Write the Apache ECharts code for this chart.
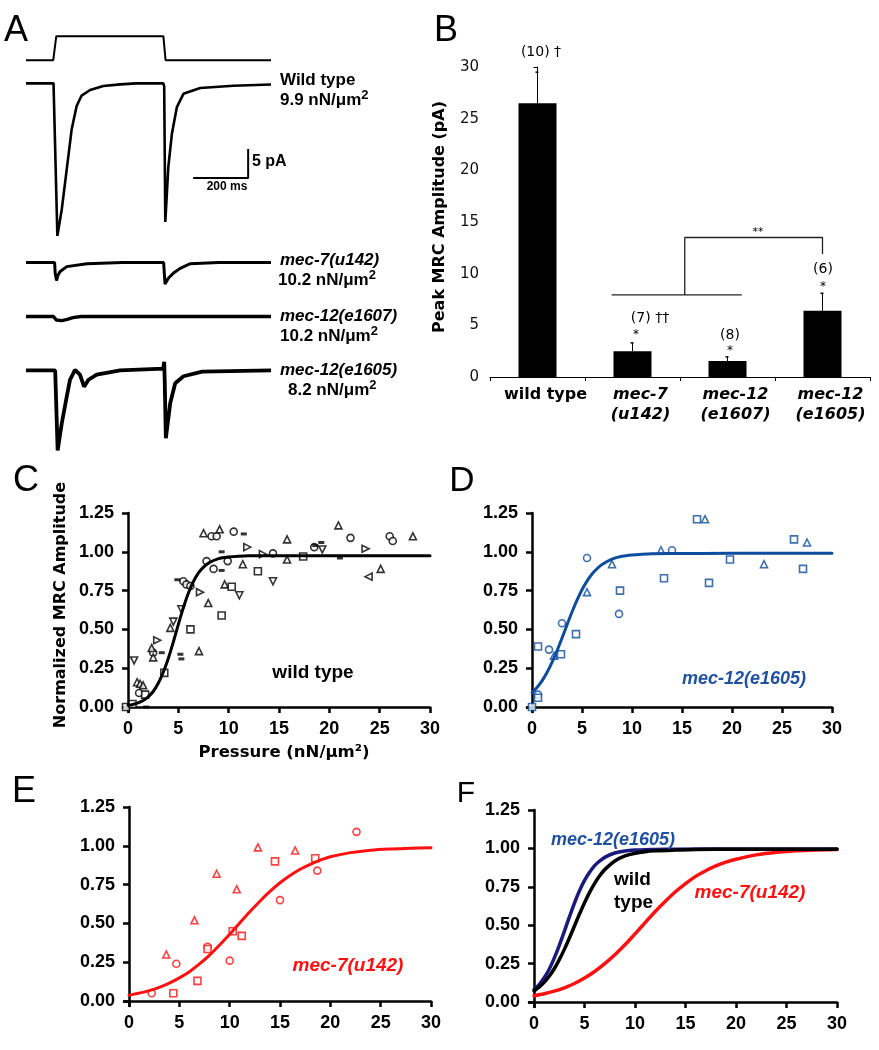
<!DOCTYPE html>
<html><head><meta charset="utf-8">
<script src="https://cdn.jsdelivr.net/npm/echarts@6/dist/echarts.min.js"></script>
<style>html,body{margin:0;padding:0;background:#fff}#c{width:879px;height:1050px}</style>
</head><body><div id="c"></div>
<script>
// ---------- Panel A: current traces (time ms, current pA relative to baseline) ----------
const stimTrace = [[0,0],[99,0],[110,1],[499,1],[507,0],[890,0]];
const wtTrace = [[0,0],[100,0],[103,-0.3],[114,-26.3],[130,-21.7],[142,-17.1],[154,-12.5],[166,-7.9],[184,-3.9],[202,-2.1],[233,-1.15],[281,-0.45],[342,-0.17],[400,0],[499,0],[502,-0.5],[506,-23.9],[517,-14.4],[530,-8.7],[548,-4.1],[572,-1.8],[633,-0.8],[753,-0.4],[890,-0.2]];
const mec7Trace = [[0,0],[104,0],[106,-1.8],[111,-3.1],[116,-2.2],[124,-1.55],[148,-0.7],[221,-0.2],[350,0],[500,0],[502,-1.5],[505,-3.7],[517,-2.7],[536,-1.8],[560,-1.0],[596,-0.2],[700,0],[890,0]];
const e1607Trace = [[0,0],[100,0],[110,-0.6],[130,-0.7],[150,-0.5],[170,-0.2],[200,0],[890,0]];
const e1605Trace = [[0,0],[106,0],[115,-13.8],[130,-9.1],[148,-4.5],[160,-1.6],[178,0.1],[196,-0.7],[211,-2.8],[227,-1.6],[257,-0.7],[342,0],[498,0.3],[502,1.5],[504,-2],[508,-11.7],[524,-5.6],[542,-2.2],[572,-1.0],[640,-0.2],[890,0]];
const scaleBar = {ms: 200, pA: 5};

// ---------- Panel B: peak MRC amplitude ----------
const barCats = ['wild type', 'mec-7\n(u142)', 'mec-12\n(e1607)', 'mec-12\n(e1605)'];
const barVals = [26.5, 2.5, 1.55, 6.4];
const barErr = [3.0, 0.8, 0.4, 1.7];
const bracketLow = [[0.78, 7.94], [2.15, 7.94]];
const bracketHigh = [[1.55, 7.94], [1.55, 13.5], [3.0, 13.5], [3.0, 11.9]];

// ---------- Panel C: wild type scatter + fit ----------
const cCircle = [[1.1,0.09],[2.5,0.35],[5.5,0.81],[5.8,0.79],[6.2,0.78],[7.8,0.94],[8.5,0.89],[8.3,1.10],[8.8,1.10],[9.9,0.94],[10.5,1.13],[14.4,0.99],[18.5,1.03],[22.1,1.09],[26.0,1.10],[26.3,1.07]];
const cTriUp = [[0.9,0.16],[1.2,0.15],[1.5,0.14],[2.35,0.38],[2.5,0.32],[4.2,0.51],[7.05,0.36],[7.97,0.67],[7.5,1.12],[9.1,1.145],[9.6,0.79],[11.4,0.92],[15.8,1.08],[15.8,0.95],[20.9,1.17],[25.1,0.89],[28.3,1.10]];
const cSquare = [[-0.2,0.0],[0.45,0.02],[1.7,0.08],[3.6,0.22],[6.2,0.50],[9.3,0.59],[10.3,0.775],[12.9,0.875],[17.4,0.97]];
const cTriDown = [[0.6,0.30],[4.5,0.55],[5.3,0.63],[11.06,0.72],[14.4,0.81],[19.3,1.015]];
const cTriRight = [[2.9,0.43],[7.15,0.74],[11.85,1.03],[13.4,0.985],[23.6,1.02]];
const cTriLeft = [[23.9,0.84]];
const cDash = [[1.8,0.0],[3.35,0.35],[5.2,0.34],[5.3,0.31],[4.9,0.82],[9.3,1.00],[9.3,0.88],[11.5,1.115],[19.2,1.06],[21.05,0.96],[18.6,1.04]];
const cFitX = [0,0.5,1,1.5,2,2.5,3,3.5,4,4.5,5,5.5,6,6.5,7,7.5,8,9,10,11,12,14,16,20,25,30];
const cFitY = [0.011,0.017,0.027,0.042,0.066,0.100,0.153,0.224,0.313,0.419,0.533,0.641,0.735,0.809,0.864,0.901,0.928,0.956,0.967,0.972,0.974,0.975,0.975,0.975,0.975,0.975];

// ---------- Panel D: mec-12(e1605) ----------
const dCircle = [[0.6,0.08],[1.7,0.37],[3.0,0.54],[5.5,0.96],[8.7,0.60],[14.0,1.01]];
const dTriUp = [[2.2,0.33],[5.5,0.74],[8.0,0.92],[12.9,1.01],[17.3,1.21],[23.2,0.92],[27.5,1.06]];
const dSquare = [[0,0.0],[0.6,0.06],[0.6,0.39],[2.9,0.34],[4.4,0.47],[8.8,0.75],[13.2,0.83],[16.5,1.21],[17.7,0.80],[19.8,0.95],[26.2,1.08],[27.1,0.89]];
const dFitX = [0,0.5,1,1.5,2,2.5,3,3.5,4,4.5,5,5.5,6,6.5,7,8,9,10,11,12,14,20,30];
const dFitY = [0.092,0.126,0.168,0.222,0.287,0.362,0.444,0.529,0.612,0.688,0.756,0.811,0.857,0.891,0.918,0.953,0.971,0.980,0.985,0.988,0.989,0.99,0.99];

// ---------- Panel E: mec-7(u142) ----------
const eCircle = [[2.25,0.05],[4.7,0.24],[7.8,0.35],[10.0,0.26],[15.0,0.65],[18.7,0.84],[22.6,1.09]];
const eTriUp = [[3.7,0.30],[6.5,0.52],[8.7,0.82],[10.7,0.72],[12.8,0.99],[16.5,0.97]];
const eSquare = [[4.4,0.05],[6.8,0.13],[7.8,0.335],[10.3,0.45],[11.2,0.42],[14.5,0.90],[18.5,0.92]];
const eFitX = [0,1,2,3,4,5,6,7,8,9,10,11,12,13,14,15,16,17,18,19,20,22,24,26,28,30];
const eFitY = [0.038,0.051,0.067,0.088,0.115,0.149,0.189,0.239,0.296,0.361,0.430,0.503,0.575,0.643,0.706,0.762,0.809,0.849,0.881,0.908,0.930,0.956,0.972,0.980,0.985,0.988];

// ---------- Panel F: fitted curves overlay ----------
const fWtX = [0,0.5,1,1.5,2,2.5,3,3.5,4,4.5,5,5.5,6,6.5,7,8,9,10,11,12,14,16,20,30];
const fWtY = [0.072,0.097,0.128,0.168,0.217,0.276,0.343,0.417,0.495,0.573,0.647,0.714,0.773,0.822,0.862,0.918,0.951,0.969,0.979,0.984,0.989,0.993,0.995,0.995];
const fBlueX = [0,0.5,1,1.5,2,2.5,3,3.5,4,4.5,5,5.5,6,6.5,7,8,9,10,11,12,14,20,30];
const fBlueY = [0.081,0.114,0.158,0.214,0.286,0.369,0.46,0.554,0.644,0.725,0.792,0.845,0.888,0.918,0.942,0.97,0.983,0.989,0.992,0.993,0.995,0.996,0.996];
const fRedX = [0,1,2,3,4,5,6,7,8,9,10,11,12,13,14,15,16,17,18,19,20,22,24,26,28,30];
const fRedY = [0.041,0.054,0.071,0.093,0.121,0.156,0.199,0.250,0.308,0.373,0.444,0.517,0.589,0.656,0.718,0.771,0.818,0.855,0.886,0.911,0.930,0.958,0.975,0.985,0.99,0.993];

const xTicksN = [0,5,10,15,20,25,30];
const yTicksN = [0,0.25,0.5,0.75,1.0,1.25];

// ================= build =================
const chart = echarts.init(document.getElementById('c'), null, {renderer: 'canvas'});
const ARIAL = 'Liberation Sans', VERD = 'DejaVu Sans';
const BLUE_D = '#0d4c9e', BLUE_F = '#1a1a7e', BLUE_TXT = '#1f51a3', RED = '#ff1010';

const zip = (xs, ys) => xs.map((x, i) => [x, ys[i]]);

const aOffsets = {stim: -5.2, wt: -9.2, mec7: -40.1, e1607: -49.4, e1605: -58.7};
const stimScale = 4.14;
const shift = (tr, off, k = 1) => tr.map(([t, v]) => [t, v * k + off]);

const grids = [
  {left: 26, top: 30, width: 245, height: 435},
  {left: 490, top: 67, width: 380, height: 310},
  {left: 123, top: 513, width: 307, height: 199},
  {left: 527, top: 513, width: 305, height: 199},
  {left: 124, top: 807, width: 307, height: 199},
  {left: 529, top: 810, width: 308, height: 197}
];

const numX = (g) => ({
  type: 'value', gridIndex: g, min: -0.5, max: 30,
  axisLine: {show: true, lineStyle: {color: '#000', width: 2.5}},
  axisTick: {show: true, length: 6, lineStyle: {color: '#000', width: 2.5}, customValues: xTicksN},
  axisLabel: {customValues: xTicksN, color: '#000', fontFamily: ARIAL, fontWeight: 'bold', fontSize: 18, margin: 8},
  splitLine: {show: false}
});
const numY = (g) => ({
  type: 'value', gridIndex: g, min: -0.032, max: 1.25,
  axisLine: {show: true, lineStyle: {color: '#000', width: 2.5}},
  axisTick: {show: true, length: 6, lineStyle: {color: '#000', width: 2.5}, customValues: yTicksN},
  axisLabel: {customValues: yTicksN, color: '#000', fontFamily: ARIAL, fontWeight: 'bold', fontSize: 18, margin: 9,
    formatter: v => v.toFixed(2)},
  splitLine: {show: false}
});

const xAxes = [
  {type: 'value', gridIndex: 0, min: 0, max: 890, show: false},
  {type: 'category', gridIndex: 1, data: barCats,
    axisLine: {lineStyle: {color: '#000', width: 1}},
    axisTick: {show: true, length: 4, lineStyle: {color: '#000'}},
    axisLabel: {color: '#000', margin: 8, interval: 0, padding: [0, 0, 0, 16],
      formatter: (v, i) => i === 0 ? '{n|' + v + '}' : v.split('\n').map(s => '{i|' + s + '}').join('\n'),
      rich: {n: {fontFamily: VERD, fontWeight: 'bold', fontSize: 16, lineHeight: 20},
             i: {fontFamily: VERD, fontWeight: 'bold', fontStyle: 'italic', fontSize: 16, lineHeight: 20}}}},
  {type: 'value', gridIndex: 1, min: -0.5, max: 3.5, show: false},
  numX(2), numX(3), numX(4), numX(5)
];
const yAxes = [
  {type: 'value', gridIndex: 0, min: -75, max: 0, show: false},
  {type: 'value', gridIndex: 1, min: 0, max: 30, interval: 5,
    axisLine: {show: true, lineStyle: {color: '#000', width: 1}},
    axisTick: {show: true, length: 4, lineStyle: {color: '#000'}},
    axisLabel: {color: '#111', fontFamily: VERD, fontSize: 15, margin: 11},
    splitLine: {show: false}},
  numY(2), numY(3), numY(4), numY(5)
];

const series = [];
const traceLine = (data, w) => ({type: 'line', xAxisIndex: 0, yAxisIndex: 0, data, showSymbol: false, symbol: 'none',
  lineStyle: {color: '#000', width: w}, silent: true, z: 3});
series.push(traceLine(shift(stimTrace, aOffsets.stim, stimScale), 2));
series.push(traceLine(shift(wtTrace, aOffsets.wt), 2.6));
series.push(traceLine(shift(mec7Trace, aOffsets.mec7), 3));
series.push(traceLine(shift(e1607Trace, aOffsets.e1607), 3.4));
series.push(traceLine(shift(e1605Trace, aOffsets.e1605), 3.8));
const sbT = 807, sbY = -25.5;
series.push(traceLine([[sbT - scaleBar.ms, sbY], [sbT, sbY], [sbT, sbY + scaleBar.pA]], 2));

series.push({type: 'bar', xAxisIndex: 1, yAxisIndex: 1, data: barVals, barWidth: 38,
  itemStyle: {color: '#000'}, z: 2});
series.push({type: 'custom', xAxisIndex: 1, yAxisIndex: 1,
  data: barVals.map((v, i) => [i, v, v + barErr[i]]), encode: {x: 0, y: [1, 2]}, z: 3,
  renderItem(params, api) {
    const p0 = api.coord([api.value(0), api.value(1)]);
    const p1 = api.coord([api.value(0), api.value(2)]);
    return {type: 'group', children: [
      {type: 'line', shape: {x1: p0[0], y1: p0[1], x2: p1[0], y2: p1[1]}, style: {stroke: '#000', lineWidth: 1}},
      {type: 'line', shape: {x1: p1[0] - 2, y1: p1[1], x2: p1[0] + 1, y2: p1[1]}, style: {stroke: '#000', lineWidth: 1.5}}
    ]};
  }});
const bracketStyle = {color: '#222', width: 1.3};
series.push({type: 'line', xAxisIndex: 2, yAxisIndex: 1, data: bracketLow, showSymbol: false, symbol: 'none', lineStyle: bracketStyle});
series.push({type: 'line', xAxisIndex: 2, yAxisIndex: 1, data: bracketHigh, showSymbol: false, symbol: 'none', lineStyle: bracketStyle});

const hollow = (g, data, symbol, color, rot) => ({type: 'scatter', xAxisIndex: g + 1, yAxisIndex: g, data,
  symbol, symbolSize: 7, symbolRotate: rot || 0,
  itemStyle: {color: '#fff', borderColor: color, borderWidth: 1.6}, z: 3});
const curve = (g, data, color, w) => ({type: 'line', xAxisIndex: g + 1, yAxisIndex: g, data, smooth: 0.3,
  showSymbol: false, symbol: 'none', lineStyle: {color, width: w, cap: 'round', join: 'round'}, z: 4});

series.push(curve(2, zip(cFitX, cFitY), '#000', 3));
series.push(hollow(2, cCircle, 'circle', '#000'));
series.push(hollow(2, cTriUp, 'triangle', '#000'));
series.push(hollow(2, cSquare, 'rect', '#000'));
series.push(hollow(2, cTriDown, 'triangle', '#000', 180));
series.push(hollow(2, cTriRight, 'triangle', '#000', -90));
series.push(hollow(2, cTriLeft, 'triangle', '#000', 90));
series.push({type: 'scatter', xAxisIndex: 3, yAxisIndex: 2, data: cDash, symbol: 'rect', symbolSize: [6, 3],
  itemStyle: {color: '#000'}, z: 3});

series.push(curve(3, zip(dFitX, dFitY), BLUE_D, 3));
series.push(hollow(3, dCircle, 'circle', BLUE_D));
series.push(hollow(3, dTriUp, 'triangle', BLUE_D));
series.push(hollow(3, dSquare, 'rect', BLUE_D));

series.push(curve(4, zip(eFitX, eFitY), RED, 3));
series.push(hollow(4, eCircle, 'circle', RED));
series.push(hollow(4, eTriUp, 'triangle', RED));
series.push(hollow(4, eSquare, 'rect', RED));

series.push(curve(5, zip(fRedX, fRedY), RED, 3.5));
series.push(curve(5, zip(fBlueX, fBlueY), BLUE_F, 3.5));
series.push(curve(5, zip(fWtX, fWtY), '#000', 3.5));

const T = (x, y, text, o = {}) => ({type: 'text', x, y, rotation: o.rot || 0, silent: true, z: 10,
  style: Object.assign({text, fill: o.fill || '#000', fontFamily: o.ff || ARIAL, fontSize: o.fs || 16,
    fontWeight: o.fw || 'normal', fontStyle: o.it ? 'italic' : 'normal',
    align: o.al || 'left', verticalAlign: 'middle'}, o.rich ? {rich: o.rich} : {})});
const pres = (val) => '{a|' + val + ' nN/μm}{s|2}';
const presRich = {a: {fontFamily: ARIAL, fontWeight: 'bold', fontSize: 17, verticalAlign: 'bottom'},
                  s: {fontFamily: ARIAL, fontWeight: 'bold', fontSize: 13, verticalAlign: 'bottom', padding: [0, 0, 7, 0]}};

const graphics = [
  T(16, 31, 'A', {fs: 36, al: 'center'}),
  T(446, 31, 'B', {fs: 36, al: 'center'}),
  T(26, 481, 'C', {fs: 36, al: 'center'}),
  T(462, 481, 'D', {fs: 35, al: 'center'}),
  T(24, 792, 'E', {fs: 36, al: 'center'}),
  T(466, 794, 'F', {fs: 30, al: 'center'}),
  T(280, 80, 'Wild type', {fs: 17, fw: 'bold'}),
  T(280, 99, pres('9.9'), {rich: presRich}),
  T(280, 260, 'mec-7(u142)', {fs: 17, fw: 'bold', it: true}),
  T(278, 279, pres('10.2'), {rich: presRich}),
  T(280, 316, 'mec-12(e1607)', {fs: 17, fw: 'bold', it: true}),
  T(280, 335, pres('10.2'), {rich: presRich}),
  T(280, 370, 'mec-12(e1605)', {fs: 17, fw: 'bold', it: true}),
  T(288, 389, pres('8.2'), {rich: presRich}),
  T(252, 162, '5 pA', {fs: 16, fw: 'bold'}),
  T(227, 187, '200 ms', {fs: 12, fw: 'bold', al: 'center'}),
  T(440, 217, 'Peak MRC Amplitude (pA)', {ff: VERD, fs: 16, fw: 'bold', al: 'center', rot: Math.PI / 2}),
  T(541, 52, '(10) †', {ff: VERD, fs: 14, al: 'center'}),
  T(650, 318, '(7) ††', {ff: VERD, fs: 14, al: 'center'}),
  T(636, 335, '*', {ff: VERD, fs: 12, al: 'center'}),
  T(730, 335, '(8)', {ff: VERD, fs: 14, al: 'center'}),
  T(730, 351, '*', {ff: VERD, fs: 12, al: 'center'}),
  T(823, 269, '(6)', {ff: VERD, fs: 14, al: 'center'}),
  T(823, 287, '*', {ff: VERD, fs: 12, al: 'center'}),
  T(758, 232, '**', {ff: VERD, fs: 11, al: 'center'}),
  T(61, 605, 'Normalized MRC Amplitude', {ff: VERD, fs: 16, fw: 'bold', al: 'center', rot: Math.PI / 2}),
  T(284, 753, 'Pressure (nN/μm²)', {ff: VERD, fs: 16.5, fw: 'bold', al: 'center'}),
  T(313, 673, 'wild type', {fs: 19, fw: 'bold', al: 'center'}),
  T(744, 679, 'mec-12(e1605)', {fs: 18, fw: 'bold', it: true, al: 'center', fill: BLUE_TXT}),
  T(348, 966, 'mec-7(u142)', {fs: 19, fw: 'bold', it: true, al: 'center', fill: RED}),
  T(613, 840, 'mec-12(e1605)', {fs: 18, fw: 'bold', it: true, al: 'center', fill: BLUE_TXT}),
  T(614, 880, 'wild', {fs: 19, fw: 'bold'}),
  T(614, 903, 'type', {fs: 19, fw: 'bold'}),
  T(750, 893, 'mec-7(u142)', {fs: 19, fw: 'bold', it: true, al: 'center', fill: RED})
];

chart.setOption({
  animation: false,
  backgroundColor: '#fff',
  grid: grids,
  xAxis: xAxes,
  yAxis: yAxes,
  series,
  graphic: graphics
});
</script></body></html>
